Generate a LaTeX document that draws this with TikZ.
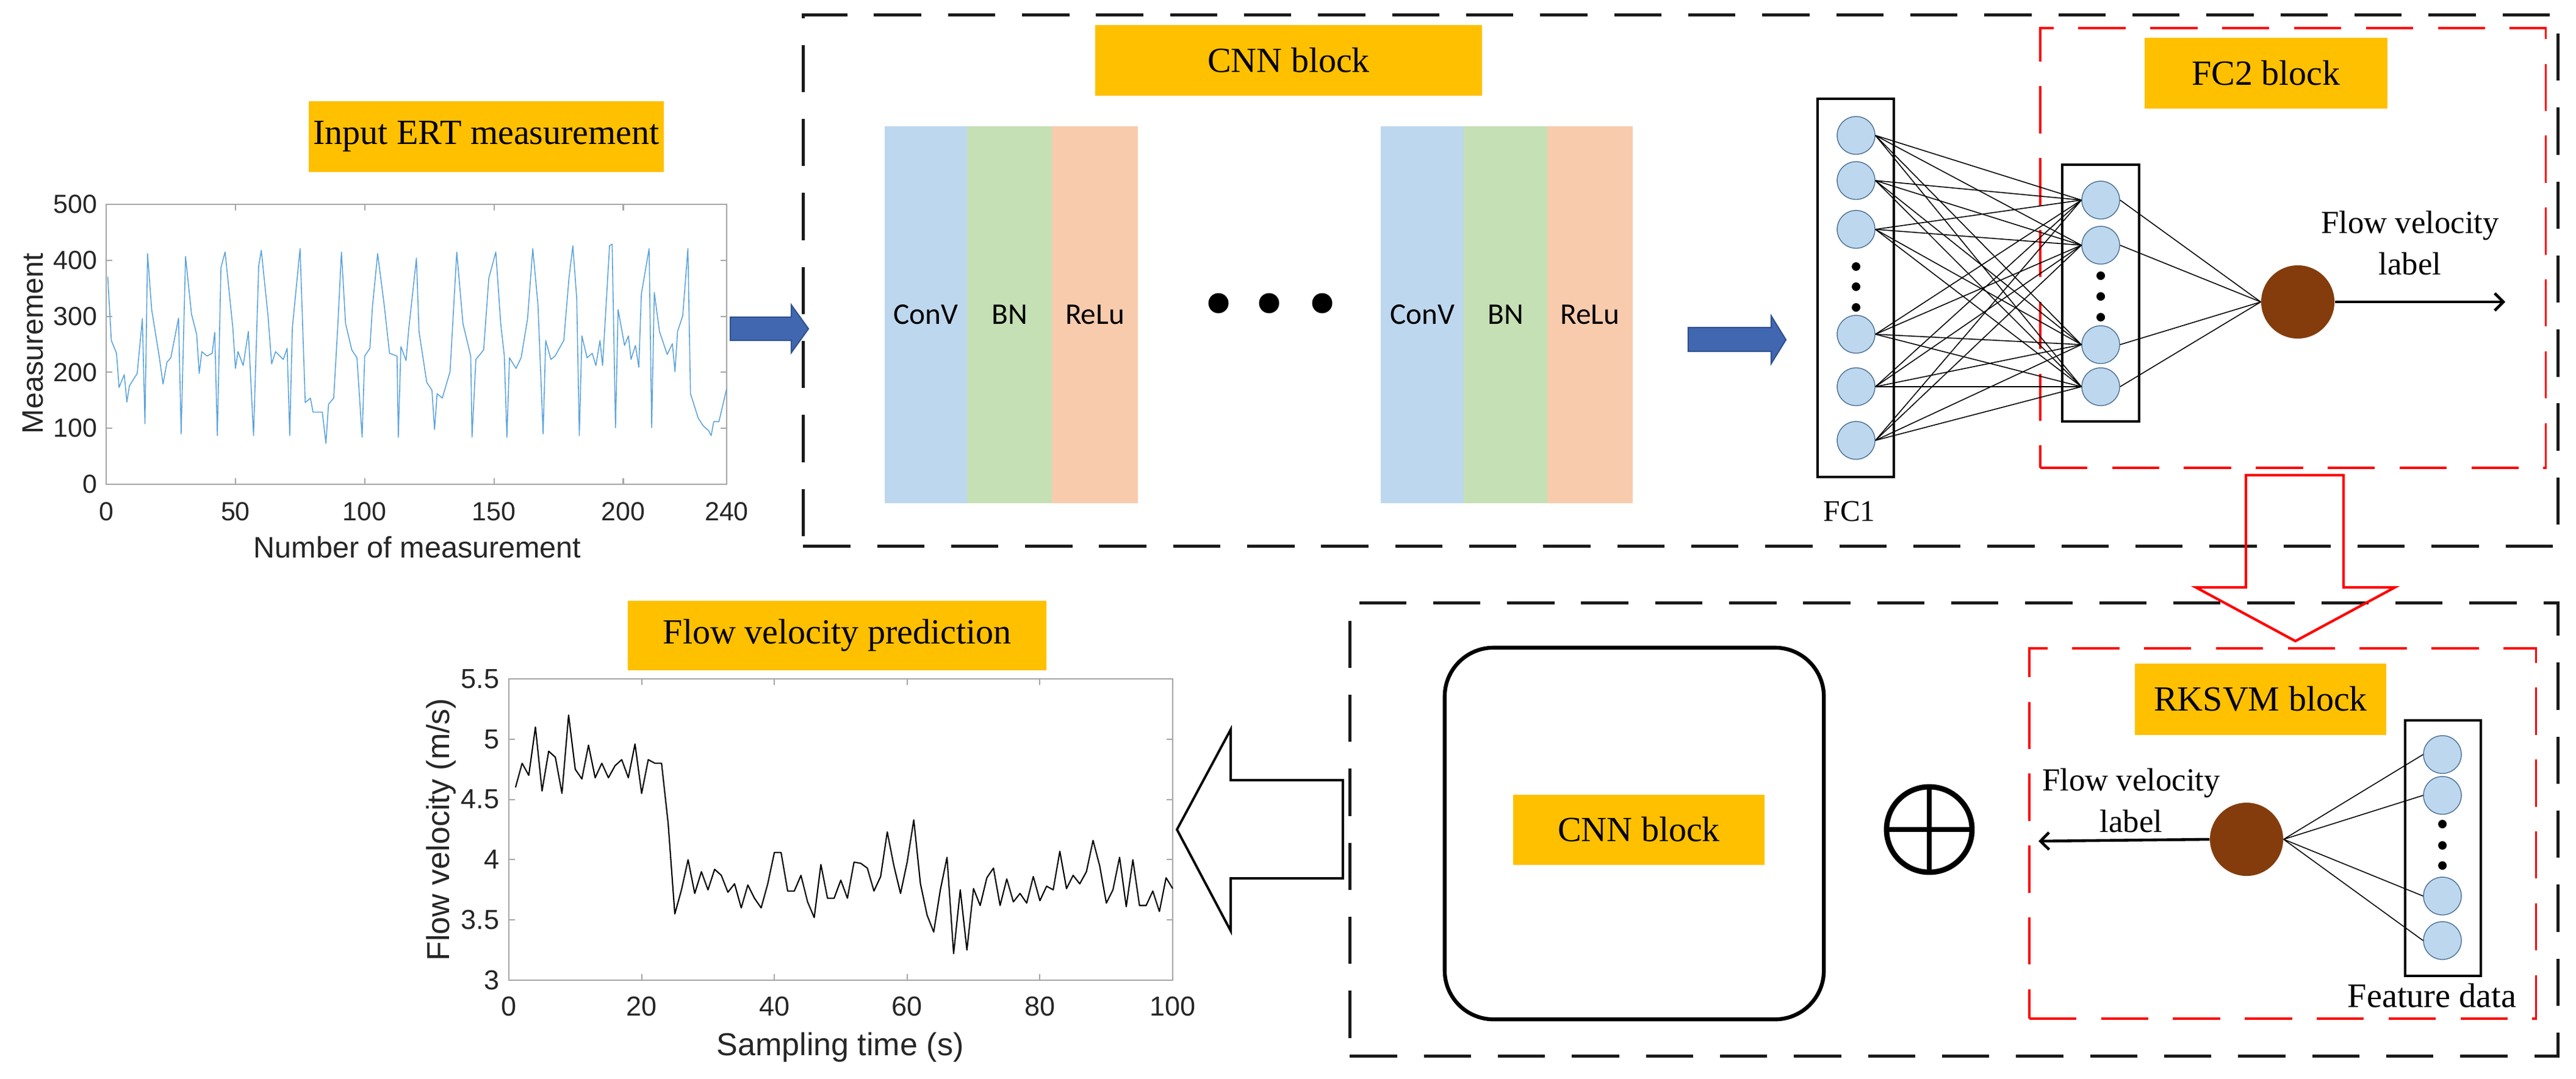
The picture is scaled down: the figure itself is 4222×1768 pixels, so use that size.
\documentclass[tikz,border=0pt]{standalone}
\usepackage{fontspec}
\setmainfont{Liberation Serif}
\newfontfamily\arialf{Liberation Sans}
\newfontfamily\calib{Carlito}
\usetikzlibrary{arrows.meta}
\definecolor{lblorange}{HTML}{FFC000}
\definecolor{convc}{HTML}{BDD7EE}
\definecolor{bnc}{HTML}{C5E0B4}
\definecolor{reluc}{HTML}{F8CBAD}
\definecolor{nblue}{HTML}{BDD7EE}
\definecolor{nedge}{HTML}{4A6F94}
\definecolor{brownc}{HTML}{843C0C}
\definecolor{arrowblue}{HTML}{4167B0}
\definecolor{arrowedge}{HTML}{2F528F}
\definecolor{axgray}{HTML}{A6A6A6}
\definecolor{axtext}{HTML}{262626}
\definecolor{plotblue}{HTML}{5BA3DC}
\definecolor{dashblack}{HTML}{1A1A1A}
\begin{document}
\begin{tikzpicture}[x=0.01cm,y=-0.01cm,
  lbl/.style={fill=lblorange, inner sep=0pt, minimum height=1.16cm, font=\fontsize{16.5}{19}\selectfont},
  stripe/.style={inner sep=0pt, minimum height=6.18cm, font=\calib\fontsize{14}{16}\selectfont},
  neuron/.style={circle, fill=nblue, draw=nedge, line width=0.4pt, minimum size=0.62cm, inner sep=0pt},
  smalldot/.style={circle, fill=black, minimum size=0.14cm, inner sep=0pt},
  bigdot/.style={circle, fill=black, minimum size=0.33cm, inner sep=0pt},
  outn/.style={circle, fill=brownc, minimum size=1.2cm, inner sep=0pt},
  conn/.style={line width=0.45pt},
  layerbox/.style={draw=black, line width=1.1pt, inner sep=0pt},
  blkdash/.style={draw=dashblack, line width=1.4pt, dash pattern=on 22pt off 12.5pt, inner sep=0pt},
  reddash/.style={draw=red, line width=1pt, dash pattern=on 22pt off 11.5pt, inner sep=0pt},
  barrow/.style={fill=arrowblue, draw=arrowedge, line width=0.6pt},
  axc/.style={draw=axgray, line width=0.6pt},
  tickt/.style={font=\arialf\fontsize{12.2}{14}\selectfont, text=axtext, inner sep=0pt},
  tickb/.style={font=\arialf\fontsize{12.8}{15}\selectfont, text=axtext, inner sep=0pt},
  axlblt/.style={font=\arialf\fontsize{13.8}{16}\selectfont, text=axtext, inner sep=0pt},
  axlblb/.style={font=\arialf\fontsize{14.8}{17}\selectfont, text=axtext, inner sep=0pt},
  txt/.style={inner sep=0pt, align=center, font=\fontsize{15}{19.3}\selectfont}
]
\useasboundingbox (0,0) rectangle (4222,1768);

% ---------------- dashed containers ----------------
\node[blkdash, minimum width=28.75cm, minimum height=8.70cm] (cnnbox) at (2754.5,460) {};
\node[blkdash, minimum width=19.79cm, minimum height=7.42cm] (hybridbox) at (3202.5,1360) {};
\node[reddash, minimum width=8.28cm, minimum height=7.21cm] (fc2box) at (3758,406.5) {};
\node[reddash, minimum width=8.30cm, minimum height=6.07cm] (rksvmbox) at (3741,1366.5) {};

% ---------------- labels ----------------
\node[lbl, minimum width=5.82cm] (linput) at (797,224) {Input ERT measurement};
\node[lbl, minimum width=6.34cm] (lcnn) at (2112,99) {CNN block};
\node[lbl, minimum width=3.98cm, minimum height=1.15cm] (lfc2) at (3714,120) {FC2 block};
\node[lbl, minimum width=6.85cm, minimum height=1.14cm] (lpred) at (1372,1042) {Flow velocity prediction};
\node[lbl, minimum width=4.12cm, minimum height=1.17cm] (lrksvm) at (3705,1146) {RKSVM block};

% ---------------- top plot ----------------
\draw[axc] (174,335) rectangle (1191,794);
\foreach \xv in {50,100,150,200} {
  \draw[axc] ({174+4.2375*\xv},794) -- ++(0,-10);
  \draw[axc] ({174+4.2375*\xv},335) -- ++(0,10);
}
\foreach \yv in {100,200,300,400} {
  \draw[axc] (174,{794-0.918*\yv}) -- ++(10,0);
  \draw[axc] (1191,{794-0.918*\yv}) -- ++(-10,0);
}
\foreach \xv in {0,50,100,150,200,240}
  \node[tickt] at ({174+4.2375*\xv},839) {\xv};
\foreach \yv in {0,100,200,300,400,500}
  \node[tickt, anchor=east] at (160,{794-0.918*\yv}) {\yv};
\node[axlblt] (xlt) at (684,897) {Number of measurement};
\node[axlblt, rotate=90] (ylt) at (54,563) {Measurement};
\begin{scope}[shift={(174,794)}, xscale=4.2375, yscale=-0.918]
\draw[plotblue, line width=0.45pt, line join=round] plot coordinates {
(0.6,371) (2,257) (4,234) (5,173) (7,196) (8,147) (9,176) (12,198) (14,296) (15,108) (16,412) (17.6,312) (20.5,229) (22,179) (23.5,218) (25,226) (28,297) (29,90) (30.7,407) (33,304) (35,268) (36,198) (37,237) (39,229) (41,234) (42,271) (43,87) (44.4,387) (46,415) (49,279) (50,207) (51,237) (53,212) (55,273) (57,87) (59,390) (60,418) (62.6,301) (64,215) (65.5,237) (68.5,223) (70,243) (71,87) (72,279) (75,421) (77,146) (79,154) (80,129) (83.6,129) (85,73) (86,143) (88,154) (89.6,284) (91,415) (92.6,287) (95,240) (97,226) (99,84) (100,229) (102,243) (103,318) (105,412) (107.6,318) (109.6,234) (112.5,229) (113,84) (114,246) (116,221) (117,276) (120,404) (121,273) (124,182) (126,168) (127,98) (128,162) (130,154) (133,201) (135.6,415) (138,287) (141,229) (141.5,84) (143,223) (146,240) (148,368) (150.7,415) (152.6,287) (154,229) (155,84) (156,226) (158.5,207) (160.5,226) (163,296) (165,421) (167,321) (169,90) (170,257) (172,223) (173.6,229) (177,257) (179,368) (180.5,426) (182,332) (183,87) (184,265) (186,226) (188,234) (189.4,212) (191,257) (192,212) (194.7,426) (195.7,429) (197,101) (198,312) (200.5,248) (202,265) (203,223) (204.7,248) (206,209) (207,340) (210,421) (211,101) (212,343) (214,273) (217,232) (219,251) (220,201) (221,273) (223,301) (225,421) (226,162) (229,118) (231,104) (233,96) (234,87) (235,112) (237,112) (240,171)};
\end{scope}

% ---------------- bottom plot ----------------
\draw[axc] (834,1113) rectangle (1922,1607);
\foreach \xv in {20,40,60,80} {
  \draw[axc] ({834+10.88*\xv},1607) -- ++(0,-10);
  \draw[axc] ({834+10.88*\xv},1113) -- ++(0,10);
}
\foreach \yv in {3.5,4,4.5,5} {
  \draw[axc] (834,{1607-(\yv-3)*197.6}) -- ++(10,0);
  \draw[axc] (1922,{1607-(\yv-3)*197.6}) -- ++(-10,0);
}
\foreach \xv in {0,20,40,60,80,100}
  \node[tickb] at ({834+10.88*\xv},1650) {\xv};
\foreach \yv in {3,3.5,4,4.5,5,5.5}
  \node[tickb, anchor=east] at (819,{1607-(\yv-3)*197.6}) {\yv};
\node[axlblb] (xlb) at (1377,1717) {Sampling time (s)};
\node[axlblb, rotate=90] (ylb) at (723,1360) {Flow velocity (m/s)};
\begin{scope}[shift={(834,2199.8)}, xscale=10.88, yscale=-197.6]
\draw[black, line width=0.6pt, line join=round] plot coordinates {
(1,4.6) (2,4.8) (3,4.7) (4,5.1) (5,4.57) (6,4.9) (7,4.85) (8,4.55) (9,5.2) (10,4.75)
(11,4.67) (12,4.95) (13,4.68) (14,4.8) (15,4.68) (16,4.78) (17,4.83) (18,4.68) (19,4.96) (20,4.55)
(21,4.83) (22,4.8) (23,4.8) (24,4.3) (25,3.55) (26,3.75) (27,4.0) (28,3.72) (29,3.9) (30,3.75)
(31,3.92) (32,3.87) (33,3.73) (34,3.8) (35,3.6) (36,3.79) (37,3.68) (38,3.6) (39,3.8) (40,4.06)
(41,4.06) (42,3.74) (43,3.74) (44,3.87) (45,3.65) (46,3.52) (47,3.96) (48,3.68) (49,3.68) (50,3.83)
(51,3.68) (52,3.98) (53,3.97) (54,3.93) (55,3.74) (56,3.86) (57,4.23) (58,3.95) (59,3.72) (60,3.98)
(61,4.33) (62,3.8) (63,3.54) (64,3.4) (65,3.75) (66,4.02) (67,3.22) (68,3.75) (69,3.25) (70,3.76)
(71,3.62) (72,3.85) (73,3.93) (74,3.62) (75,3.84) (76,3.65) (77,3.72) (78,3.64) (79,3.86) (80,3.66)
(81,3.78) (82,3.75) (83,4.07) (84,3.76) (85,3.87) (86,3.8) (87,3.9) (88,4.16) (89,3.95) (90,3.64)
(91,3.75) (92,4.02) (93,3.61) (94,4.0) (95,3.62) (96,3.62) (97,3.74) (98,3.57) (99,3.85) (100,3.76)};
\end{scope}

% ---------------- CNN stripes ----------------
\node[stripe, fill=convc, minimum width=1.35cm] (conv1) at (1517.5,516) {ConV};
\node[stripe, fill=bnc, minimum width=1.39cm] (bn1) at (1654.5,516) {BN};
\node[stripe, fill=reluc, minimum width=1.41cm] (relu1) at (1794.5,516) {ReLu};
\node[stripe, fill=convc, minimum width=1.36cm] (conv2) at (2331,516) {ConV};
\node[stripe, fill=bnc, minimum width=1.37cm] (bn2) at (2467.5,516) {BN};
\node[stripe, fill=reluc, minimum width=1.40cm] (relu2) at (2606,516) {ReLu};
\node[bigdot] (d1) at (1997,497) {};
\node[bigdot] (d2) at (2080,497) {};
\node[bigdot] (d3) at (2167,497) {};

% ---------------- blue arrows ----------------
\coordinate (ba1) at (1325,539);
\draw[barrow] (ba1) -- ++(-28,-39) -- ++(0,20) -- ++(-100,0) -- ++(0,38) -- ++(100,0) -- ++(0,20) -- cycle;
\coordinate (ba2) at (2927,557);
\draw[barrow] (ba2) -- ++(-24,-39) -- ++(0,19) -- ++(-136,0) -- ++(0,39) -- ++(136,0) -- ++(0,20) -- cycle;

% ---------------- FC1 / FC2 ----------------
\node[layerbox, minimum width=1.25cm, minimum height=6.20cm] (fc1rect) at (3041.5,472) {};
\node[layerbox, minimum width=1.26cm, minimum height=4.21cm] (fc2rect) at (3443,480.5) {};
\foreach \i/\yy in {1/222,2/296,3/376,4/548,5/634,6/722}
  \node[neuron] (f\i) at (3042,\yy) {};
\foreach \i/\yy in {1/328,2/402,3/565,4/634}
  \node[neuron] (g\i) at (3443,\yy) {};
\foreach \i/\yy in {1/437,2/470,3/504}
  \node[smalldot] (fd\i) at (3042,\yy) {};
\foreach \i/\yy in {1/452,2/486,3/520}
  \node[smalldot] (gd\i) at (3443,\yy) {};
\node[outn] (o1) at (3766,495) {};
\foreach \i in {1,...,6} \foreach \j in {1,...,4}
  \draw[conn] (f\i.east) -- (g\j.west);
\foreach \j in {1,...,4}
  \draw[conn] (g\j.east) -- (o1.west);
\coordinate (o1end) at (4106,495);
\draw[line width=1.3pt, -{Straight Barb[length=4pt, width=8pt]}] (o1.east) -- (o1end);
\node[txt] (t1) at (3950,398) {Flow velocity\\label};
\node[inner sep=0pt, font=\fontsize{14}{16}\selectfont] (fc1lbl) at (3031,838) {FC1};

% ---------------- red hollow arrow ----------------
\coordinate (ra) at (3762,1051);
\draw[red, line width=1.2pt, line join=miter] (ra) -- ++(-163,-88) -- ++(82,0) -- ++(0,-184) -- ++(160,0) -- ++(0,184) -- ++(84,0) -- cycle;

% ---------------- bottom hybrid ----------------
\node[draw=black, line width=1.8pt, rounded corners=0.8cm, minimum width=6.21cm, minimum height=6.09cm, inner sep=0pt] (cnnround) at (2678.5,1366.5) {};
\node[lbl, minimum width=4.12cm, minimum height=1.15cm] (lcnn2) at (2686,1360) {CNN block};
\node[circle, draw=black, line width=2.5pt, minimum size=1.40cm, inner sep=0pt] (oplus) at (3162,1360) {};
\draw[line width=2.3pt] (oplus.north) -- (oplus.south);
\draw[line width=2.3pt] (oplus.west) -- (oplus.east);

\node[layerbox, minimum width=1.24cm, minimum height=4.19cm] (featrect) at (4004,1390.5) {};
\foreach \i/\yy in {1/1237,2/1304,3/1469,4/1542}
  \node[neuron] (h\i) at (4003,\yy) {};
\foreach \i/\yy in {1/1351,2/1386,3/1419}
  \node[smalldot] (hd\i) at (4003,\yy) {};
\node[outn] (o2) at (3682,1376) {};
\foreach \j in {1,...,4}
  \draw[conn] (h\j.west) -- (o2.east);
\coordinate (o2end) at (3341,1379);
\draw[line width=1.3pt, -{Straight Barb[length=4pt, width=8pt]}] (o2.west) -- (o2end);
\node[txt] (t2) at (3493,1312) {Flow velocity\\label};
\node[inner sep=0pt, font=\fontsize{16}{18}\selectfont] (featlbl) at (3986,1632) {Feature data};

% ---------------- black hollow arrow ----------------
\coordinate (ha) at (1929,1360);
\draw[line width=1.1pt, line join=miter] (ha) -- ++(88,-164) -- ++(0,83) -- ++(184,0) -- ++(0,161) -- ++(-184,0) -- ++(0,86) -- cycle;
\end{tikzpicture}
\end{document}
